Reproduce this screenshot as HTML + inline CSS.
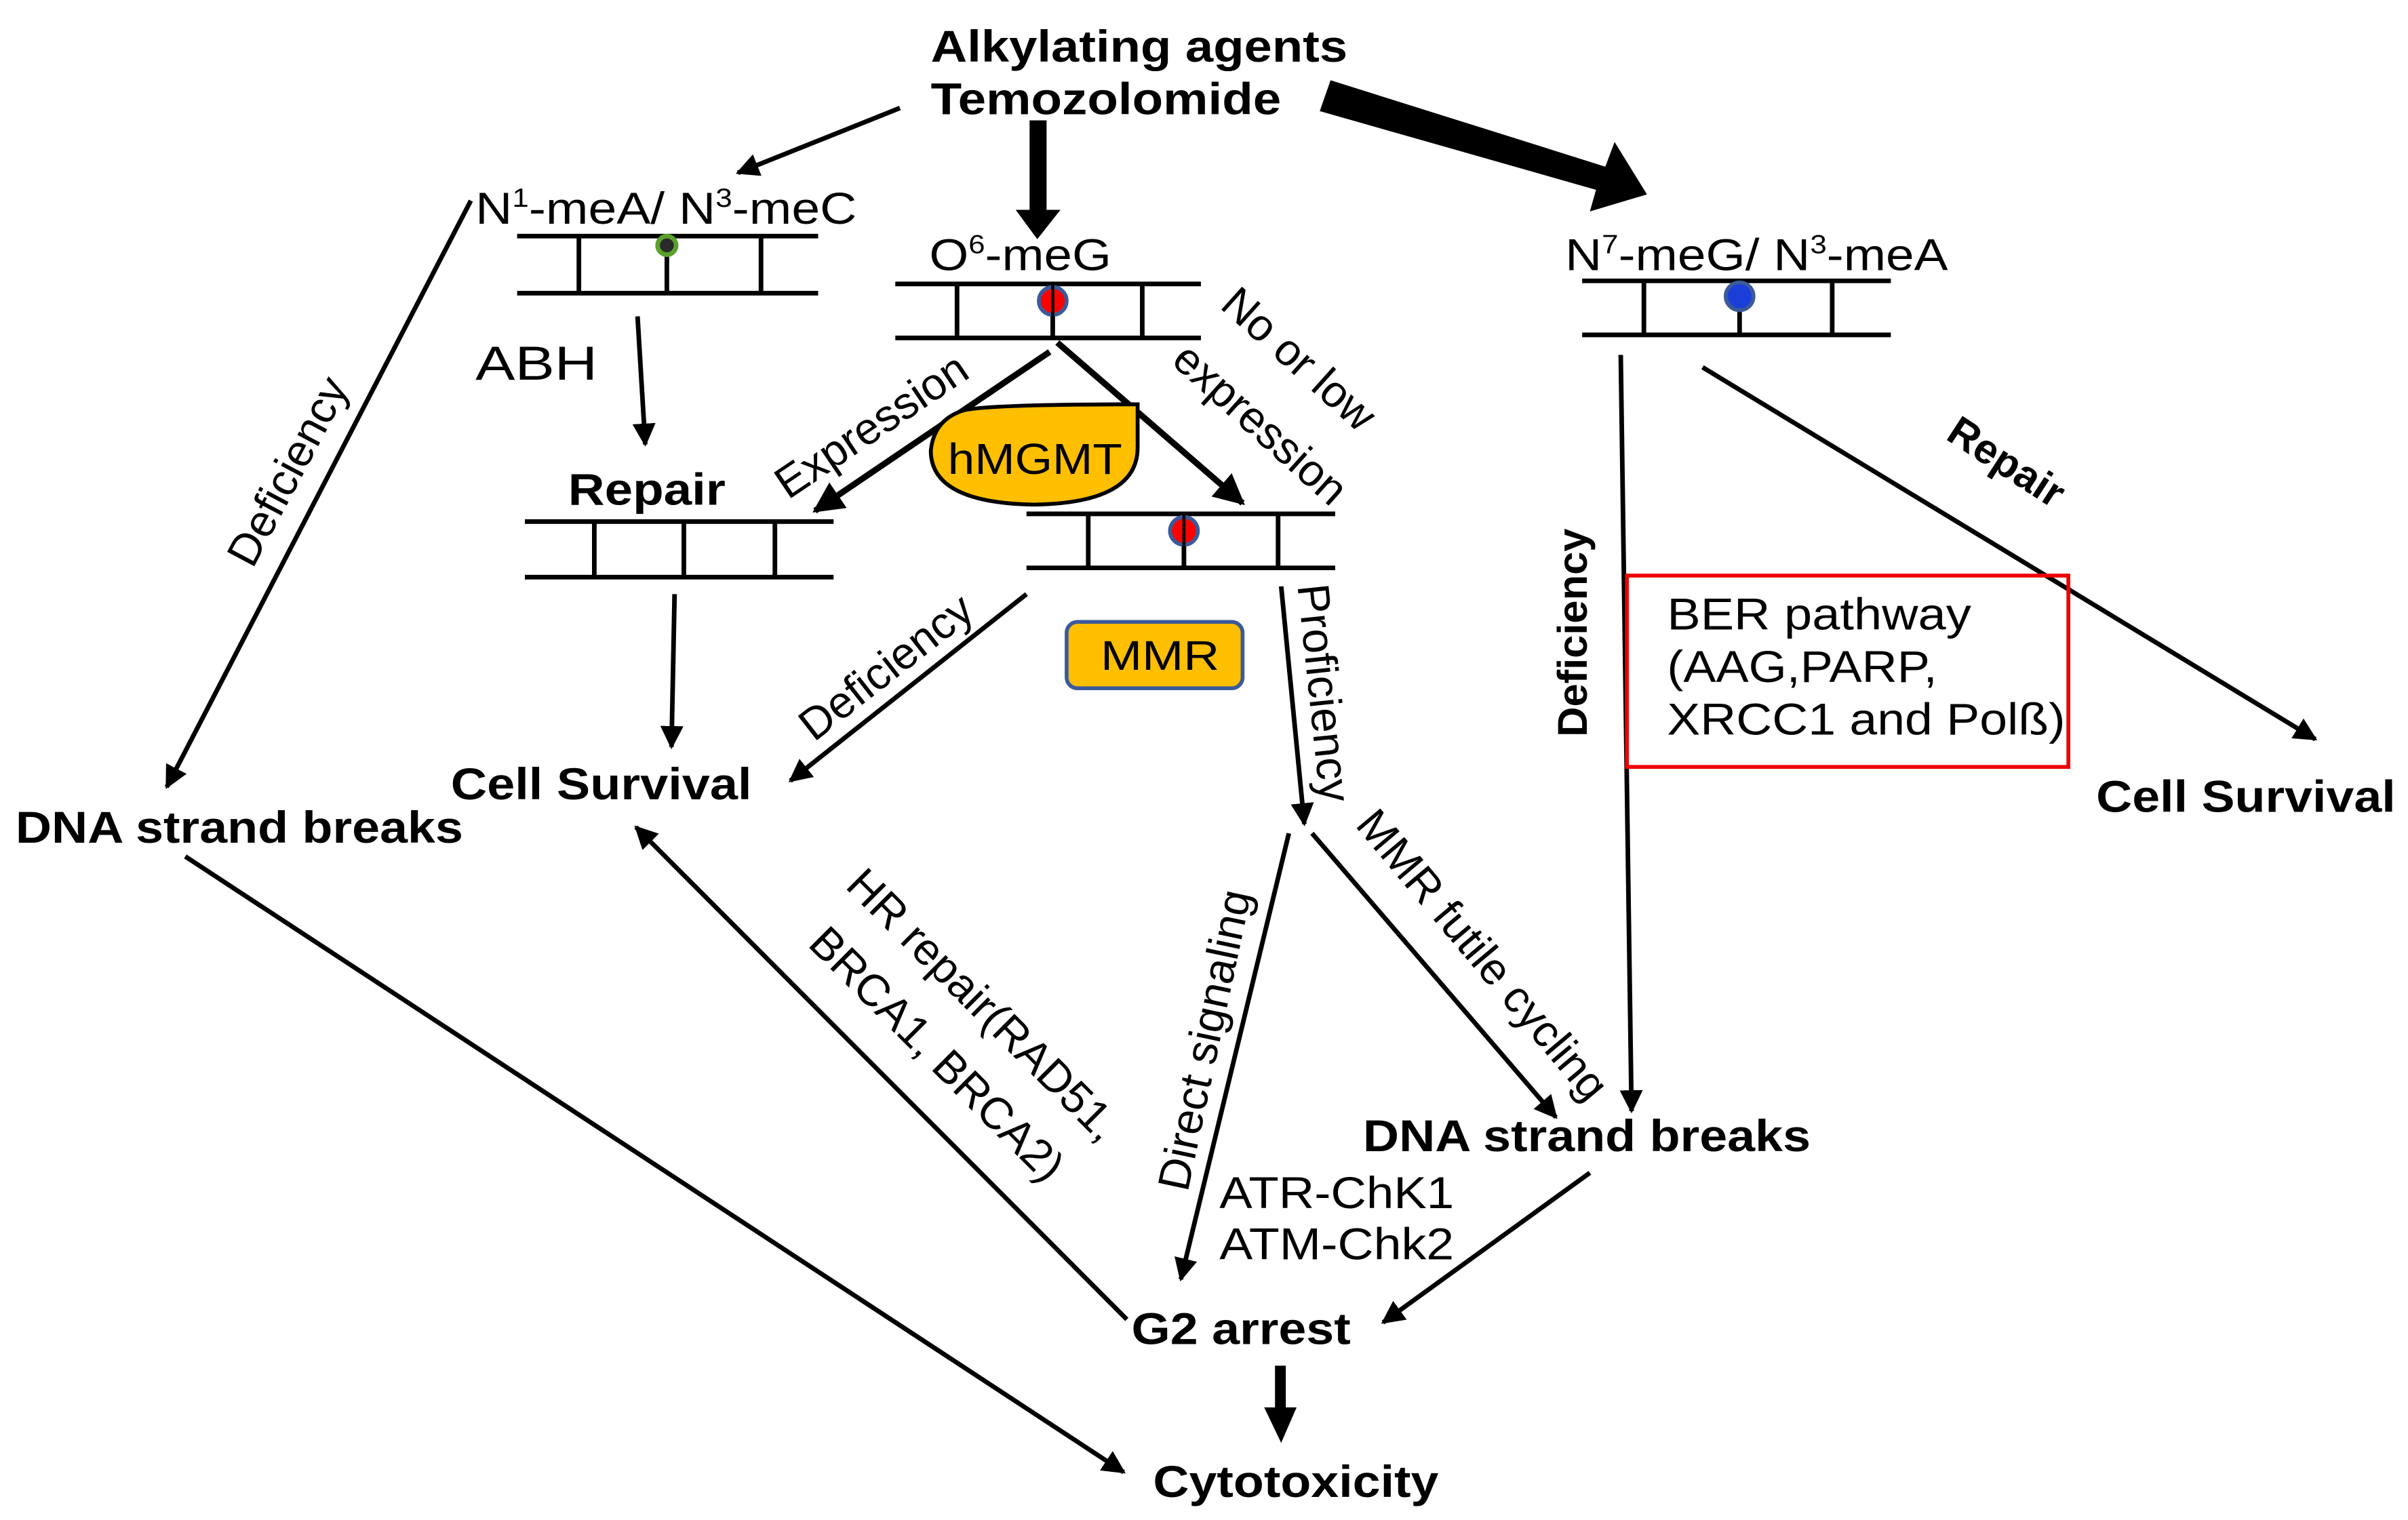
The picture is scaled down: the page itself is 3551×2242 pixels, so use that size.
<!DOCTYPE html>
<html><head><meta charset="utf-8"><style>html,body{margin:0;padding:0;background:#fff}svg{display:block}</style></head>
<body>
<svg width="3551" height="2242" viewBox="0 0 1560 985" xmlns="http://www.w3.org/2000/svg" font-family="Liberation Sans, Arial, sans-serif">
<defs>
<marker id="a" viewBox="0 0 10 10" refX="9" refY="5" markerWidth="5" markerHeight="5" orient="auto" markerUnits="strokeWidth"><path d="M0,0 L10,5 L0,10 z" fill="#000"/></marker>
</defs>
<g fill="#000" font-size="29" font-weight="bold" lengthAdjust="spacingAndGlyphs">
<text x="603" y="40" textLength="270" lengthAdjust="spacingAndGlyphs">Alkylating agents</text>
<text x="603" y="74" textLength="227" lengthAdjust="spacingAndGlyphs">Temozolomide</text>
</g>
<g stroke="#000" stroke-width="3" fill="none">
<line x1="583" y1="70" x2="478" y2="112" marker-end="url(#a)"/>
<line x1="413" y1="205" x2="418" y2="288" marker-end="url(#a)"/>
<line x1="437" y1="385" x2="435" y2="484" marker-end="url(#a)"/>
<line x1="305" y1="130" x2="108" y2="510" marker-end="url(#a)"/>
<line x1="120" y1="555" x2="728" y2="954" marker-end="url(#a)"/>
<line x1="680" y1="228" x2="528" y2="331" stroke-width="4" marker-end="url(#a)" />
<line x1="685" y1="222" x2="805" y2="326" stroke-width="4" marker-end="url(#a)"/>
<line x1="665" y1="385" x2="512" y2="506" marker-end="url(#a)"/>
<line x1="830" y1="380" x2="845" y2="534" marker-end="url(#a)"/>
<line x1="835" y1="540" x2="765" y2="829" marker-end="url(#a)"/>
<line x1="850" y1="540" x2="1008" y2="724" marker-end="url(#a)"/>
<line x1="730" y1="855" x2="412" y2="536" marker-end="url(#a)"/>
<line x1="1030" y1="760" x2="896" y2="857" marker-end="url(#a)"/>
<line x1="1050" y1="230" x2="1057" y2="720" marker-end="url(#a)"/>
<line x1="1103" y1="238" x2="1500" y2="479" marker-end="url(#a)"/>
</g>
<rect x="667" y="78" width="11" height="58" fill="#000"/>
<path d="M658,136 L687,136 L672,155 z" fill="#000"/>
<rect x="826" y="885" width="7" height="30" fill="#000"/>
<path d="M819,912 L840,912 L830,935 z" fill="#000"/>
<path d="M855,72 L862,52 L1040,108 L1046,92 L1067,126 L1030,137 L1034,123 z" fill="#000"/>
<g stroke="#000" stroke-width="3">
<line x1="335" y1="153" x2="530" y2="153"/><line x1="335" y1="190" x2="530" y2="190"/>
<line x1="375" y1="153" x2="375" y2="190"/><line x1="432" y1="153" x2="432" y2="190"/><line x1="493" y1="153" x2="493" y2="190"/>
<line x1="340" y1="338" x2="540" y2="338"/><line x1="340" y1="374" x2="540" y2="374"/>
<line x1="385" y1="338" x2="385" y2="374"/><line x1="443" y1="338" x2="443" y2="374"/><line x1="502" y1="338" x2="502" y2="374"/>
<line x1="580" y1="184" x2="778" y2="184"/><line x1="580" y1="219" x2="778" y2="219"/>
<line x1="620" y1="184" x2="620" y2="219"/><line x1="682" y1="184" x2="682" y2="219"/><line x1="740" y1="184" x2="740" y2="219"/>
<line x1="665" y1="333" x2="865" y2="333"/><line x1="665" y1="368" x2="865" y2="368"/>
<line x1="705" y1="333" x2="705" y2="368"/><line x1="767" y1="333" x2="767" y2="368"/><line x1="828" y1="333" x2="828" y2="368"/>
<line x1="1025" y1="182" x2="1225" y2="182"/><line x1="1025" y1="217" x2="1225" y2="217"/>
<line x1="1065" y1="182" x2="1065" y2="217"/><line x1="1127" y1="182" x2="1127" y2="217"/><line x1="1187" y1="182" x2="1187" y2="217"/>
</g>
<circle cx="432" cy="159" r="6" fill="#2a2a2a" stroke="#5aa02c" stroke-width="3"/>
<circle cx="682" cy="195" r="9" fill="#f00" stroke="#3a5a9a" stroke-width="2.5"/>
<circle cx="767" cy="344" r="9" fill="#f00" stroke="#3a5a9a" stroke-width="2.5"/>
<circle cx="1127" cy="192" r="9" fill="#1a3fd8" stroke="#3a5a9a" stroke-width="2.5"/>
<line x1="682" y1="184" x2="682" y2="219" stroke="#000" stroke-width="2"/>
<line x1="767" y1="333" x2="767" y2="368" stroke="#000" stroke-width="2"/>
<path d="M624,266 Q640,262 737,262 L737,290 Q737,326 670,327 Q603,326 603,292 Q605,272 624,266 z" fill="#fdbf00" stroke="#000" stroke-width="2.5"/>
<text x="614" y="307" font-size="28" textLength="113" lengthAdjust="spacingAndGlyphs">hMGMT</text>
<rect x="691" y="403" width="114" height="43" rx="7" fill="#fdbf00" stroke="#3a5a9a" stroke-width="2.5"/>
<text x="713" y="434" font-size="27" textLength="77" lengthAdjust="spacingAndGlyphs">MMR</text>
<rect x="1054" y="373" width="286" height="124" fill="none" stroke="#e00" stroke-width="2.5"/>
<g font-size="29" fill="#000">
<text x="308" y="145" textLength="247" lengthAdjust="spacingAndGlyphs">N<tspan font-size="17" dy="-11">1</tspan><tspan dy="11">-meA/ N</tspan><tspan font-size="17" dy="-11">3</tspan><tspan dy="11">-meC</tspan></text>
<text x="602" y="175" textLength="118" lengthAdjust="spacingAndGlyphs">O<tspan font-size="17" dy="-11">6</tspan><tspan dy="11">-meG</tspan></text>
<text x="1014" y="175" textLength="248" lengthAdjust="spacingAndGlyphs">N<tspan font-size="17" dy="-11">7</tspan><tspan dy="11">-meG/ N</tspan><tspan font-size="17" dy="-11">3</tspan><tspan dy="11">-meA</tspan></text>
<text x="308" y="246" font-size="31" textLength="79" lengthAdjust="spacingAndGlyphs">ABH</text>
<text x="1080" y="408" textLength="197" lengthAdjust="spacingAndGlyphs">BER pathway</text>
<text x="1080" y="442" textLength="175" lengthAdjust="spacingAndGlyphs">(AAG,PARP,</text>
<text x="1080" y="476" textLength="258" lengthAdjust="spacingAndGlyphs">XRCC1 and Polß)</text>
<text x="790" y="783" textLength="152" lengthAdjust="spacingAndGlyphs">ATR-ChK1</text>
<text x="790" y="816" textLength="152" lengthAdjust="spacingAndGlyphs">ATM-Chk2</text>
<text transform="translate(195,310) rotate(-62)" text-anchor="middle">Deficiency</text>
<text transform="translate(570,284) rotate(-34)" text-anchor="middle">Expression</text>
<text transform="translate(835,240) rotate(42)" text-anchor="middle">No or low</text>
<text transform="translate(810,282) rotate(42)" text-anchor="middle">expression</text>
<text transform="translate(580,440) rotate(-38)" text-anchor="middle">Deficiency</text>
<text transform="translate(848,450) rotate(84)" text-anchor="middle">Proficiency</text>
<text transform="translate(790,676) rotate(-78)" text-anchor="middle">Direct signaling</text>
<text transform="translate(953,625) rotate(50)" text-anchor="middle">MMR futile cycling</text>
<text transform="translate(630,658) rotate(45)" text-anchor="middle">HR repair(RAD51,</text>
<text transform="translate(600,690) rotate(45)" text-anchor="middle">BRCA1, BRCA2)</text>
</g>
<g font-size="29" font-weight="bold" fill="#000">
<text x="368" y="327" textLength="102" lengthAdjust="spacingAndGlyphs">Repair</text>
<text x="292" y="518" textLength="195" lengthAdjust="spacingAndGlyphs">Cell Survival</text>
<text x="10" y="546" textLength="290" lengthAdjust="spacingAndGlyphs">DNA strand breaks</text>
<text x="883" y="746" textLength="290" lengthAdjust="spacingAndGlyphs">DNA strand breaks</text>
<text x="733" y="871" textLength="142" lengthAdjust="spacingAndGlyphs">G2 arrest</text>
<text x="747" y="970" textLength="185" lengthAdjust="spacingAndGlyphs">Cytotoxicity</text>
<text x="1358" y="526" textLength="194" lengthAdjust="spacingAndGlyphs">Cell Survival</text>
<text transform="translate(1028,410) rotate(-90)" text-anchor="middle" font-size="27">Deficiency</text>
<text transform="translate(1295,307) rotate(33)" text-anchor="middle" font-size="27">Repair</text>
</g>
</svg>
</body></html>
